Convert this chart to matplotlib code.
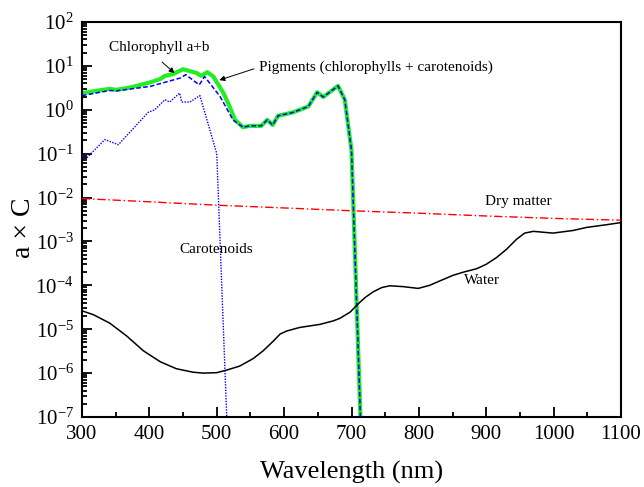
import matplotlib
matplotlib.use("Agg")
import matplotlib.pyplot as plt
from matplotlib.ticker import LogLocator, MultipleLocator, LogFormatterSciNotation, NullFormatter

plt.rcParams['font.family'] = ['Liberation Serif', 'DejaVu Serif']
plt.rcParams['mathtext.fontset'] = 'custom'
plt.rcParams['mathtext.rm'] = 'Liberation Serif'
plt.rcParams['mathtext.it'] = 'Liberation Serif:italic'

# ---- data ----
pig_wl = [300, 341, 351, 371, 401, 416, 423, 435, 450, 470, 477, 486, 495, 510, 520, 527, 539,
          549, 566, 575, 583, 591, 613, 636, 649, 658, 680, 690, 700, 720]
pig_val = [2.4, 3.0, 2.85, 3.2, 4.2, 5.0, 5.9, 6.5, 8.4, 6.9, 5.9, 7.2, 5.7, 2.4, 1.1, 0.59, 0.40,
           0.43, 0.43, 0.59, 0.45, 0.73, 0.87, 1.19, 2.5, 1.95, 3.5, 1.7, 0.12, 8e-11]

chl_wl = [300, 341, 351, 401, 446, 454, 474, 482, 505, 524, 539,
          549, 566, 575, 583, 591, 613, 636, 649, 658, 680, 690, 700, 720]
chl_val = [2.1, 2.75, 2.7, 3.4, 5.3, 6.3, 3.7, 5.7, 2.0, 0.59, 0.40,
           0.43, 0.43, 0.59, 0.45, 0.73, 0.87, 1.19, 2.5, 1.95, 3.5, 1.7, 0.12, 8e-11]

car_wl = [300, 307, 334, 354, 398, 408, 423, 430, 445, 448, 460, 475, 500, 520]
car_val = [0.09, 0.08, 0.21, 0.16, 0.87, 1.0, 1.7, 1.5, 2.4, 1.5, 1.5, 2.1, 0.1, 8e-10]

dry_wl = [300, 400, 500, 600, 700, 800, 900, 1000, 1100]
dry_val = [9.5e-3, 8.0e-3, 6.7e-3, 5.8e-3, 5.0e-3, 4.4e-3, 3.8e-3, 3.35e-3, 3.05e-3]

wat_wl = [300, 317, 341, 366, 391, 416, 440, 465, 480, 500, 515, 534, 554, 569, 584, 594,
          604, 623, 653, 673, 683, 698, 708, 720, 732, 745, 757, 777, 799, 816, 831, 851,
          866, 886, 900, 915, 930, 945, 957, 970, 999, 1029, 1049, 1078, 1100]
wat_log = [-4.58, -4.67, -4.86, -5.15, -5.49, -5.74, -5.90, -5.98, -6.00, -5.99, -5.93, -5.84,
           -5.67, -5.49, -5.27, -5.11, -5.04, -4.96, -4.89, -4.81, -4.75, -4.61, -4.45, -4.28,
           -4.15, -4.05, -4.01, -4.03, -4.07, -4.00, -3.90, -3.77, -3.70, -3.62, -3.52, -3.37,
           -3.18, -2.95, -2.81, -2.77, -2.81, -2.75, -2.68, -2.62, -2.57]
wat_val = [10 ** v for v in wat_log]

x_ticks = [300, 400, 500, 600, 700, 800, 900, 1000, 1100]

# ---- figure ----
fig = plt.figure(figsize=(6.44, 4.87), dpi=100)
ax = fig.add_axes([82 / 644, 1 - 417 / 487, (621 - 82) / 644, (417 - 22) / 487])

ax.plot(pig_wl, pig_val, color='#22ee22', lw=3.0, solid_joinstyle='round', zorder=2)
ax.plot(chl_wl, chl_val, color='#0000ff', lw=1.1, ls=(0, (3, 1.5)), zorder=3)
ax.plot(car_wl, car_val, color='#0000ff', lw=1.0, ls=(0, (1, 1)), zorder=3)
ax.plot(dry_wl, dry_val, color='#ff0000', lw=1.0, ls=(0, (6, 2, 1, 2)), zorder=3)
ax.plot(wat_wl, wat_val, color='black', lw=1.1, zorder=3)

ax.set_yscale('log')
ax.set_xlim(300, 1100)
ax.set_ylim(1e-7, 1e2)
ax.set_xticks(x_ticks)
ax.xaxis.set_minor_locator(MultipleLocator(50))
ax.yaxis.set_major_locator(LogLocator(base=10, numticks=20))
ax.yaxis.set_minor_locator(LogLocator(base=10, subs=range(2, 10), numticks=20))
ax.yaxis.set_major_formatter(LogFormatterSciNotation())
ax.yaxis.set_minor_formatter(NullFormatter())

ax.tick_params(which='both', direction='in', top=False, right=False, width=1.3)
ax.tick_params(which='major', length=7, labelsize=15)
ax.tick_params(which='minor', length=3.5)
ax.tick_params(axis='x', which='major', pad=6)
ax.tick_params(axis='y', which='major', pad=6)
for s in ax.spines.values():
    s.set_linewidth(1.5)

ax.set_xlabel('Wavelength (nm)', fontsize=19, labelpad=12)
ax.set_ylabel('a × C', fontsize=20)
ax.yaxis.set_label_coords(-0.108, 0.478)
ax.yaxis.label.set_verticalalignment('center')

# ---- annotations ----
ax.text(415, 25.7, 'Chlorophyll a+b', fontsize=11, ha='center', va='center')
ax.annotate('', xy=(440.5, 6.2), xytext=(415.7, 13.5),
            arrowprops=dict(arrowstyle='-|>', lw=0.7, color='black', mutation_scale=8))
ax.text(562.6, 9.5, 'Pigments (chlorophylls + carotenoids)', fontsize=11, ha='left', va='center')
ax.annotate('', xy=(499.9, 4.53), xytext=(559, 8.96),
            arrowprops=dict(arrowstyle='-|>', lw=0.7, color='black', mutation_scale=8))
ax.text(947, 8.3e-3, 'Dry matter', fontsize=11, ha='center', va='center')
ax.text(498.8, 6.4e-4, 'Carotenoids', fontsize=11, ha='center', va='center')
ax.text(893.5, 1.3e-4, 'Water', fontsize=11, ha='center', va='center')

fig.savefig('out.png', dpi=100)
